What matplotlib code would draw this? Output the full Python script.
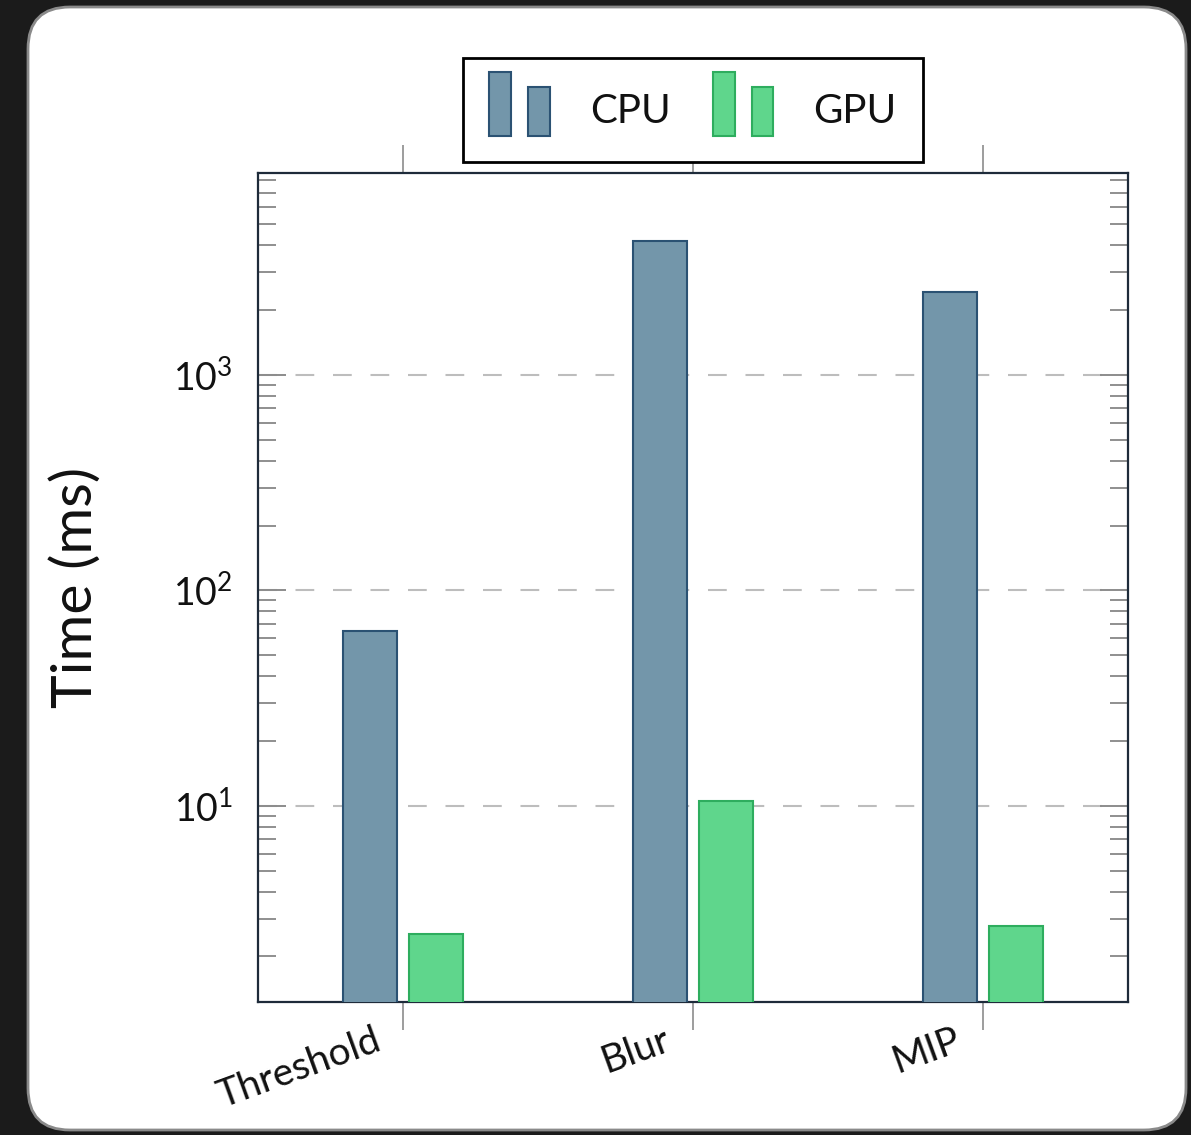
import matplotlib
matplotlib.use("Agg")
import matplotlib.pyplot as plt
import matplotlib.transforms as mtransforms
from matplotlib.patches import FancyBboxPatch, Rectangle
from matplotlib.legend_handler import HandlerBase
from matplotlib.ticker import LogLocator, NullFormatter
import numpy as np

# data
categories = ["Threshold", "Blur", "MIP"]
cpu_ms = [65, 4200, 2430]
gpu_ms = [2.55, 10.5, 2.77]

CPU_FILL, CPU_EDGE = "#7396aa", "#2b5273"
GPU_FILL, GPU_EDGE = "#5fd68c", "#2ead5e"

plt.rcParams["font.family"] = ["Lato", "DejaVu Sans"]
plt.rcParams["mathtext.fontset"] = "custom"
plt.rcParams["mathtext.rm"] = "Lato"
plt.rcParams["mathtext.it"] = "Lato:italic"
plt.rcParams["mathtext.bf"] = "Lato:bold"


class TwoBarHandler(HandlerBase):
    # pgfplots-style ybar legend image: a tall and a short bar
    def create_artists(self, legend, orig_handle, xdescent, ydescent,
                       width, height, fontsize, trans):
        fc = orig_handle.get_facecolor()
        ec = orig_handle.get_edgecolor()
        full = height + ydescent
        w = width * 0.36
        r1 = Rectangle((-xdescent, -ydescent), w, full, facecolor=fc,
                       edgecolor=ec, lw=1.5, transform=trans)
        r2 = Rectangle((-xdescent + width - w, -ydescent), w, full * 0.76,
                       facecolor=fc, edgecolor=ec, lw=1.5, transform=trans)
        return [r1, r2]


fig = plt.figure(figsize=(11.91, 11.35), dpi=100)
fig.patch.set_facecolor("#1b1b1b")

card = FancyBboxPatch((0.28, 0.05), 11.58, 11.23,
                      boxstyle="round,pad=0,rounding_size=0.42",
                      transform=fig.dpi_scale_trans, facecolor="white",
                      edgecolor="#8a8a8a", lw=2, zorder=-5)
fig.patches.append(card)

ax = fig.add_axes([0.2166, 0.1172, 0.7305, 0.7304])
ax.set_yscale("log")

x = np.arange(len(categories))
off, bw = 0.114, 0.186
b1 = ax.bar(x - off, cpu_ms, bw, color=CPU_FILL, edgecolor=CPU_EDGE,
            lw=1.5, label="CPU", zorder=3)
b2 = ax.bar(x + off, gpu_ms, bw, color=GPU_FILL, edgecolor=GPU_EDGE,
            lw=1.5, label="GPU", zorder=3)

ax.set_xlim(-0.5, 2.5)
ax.set_ylim(1.23, 8650)

for s in ax.spines.values():
    s.set_color("#1e2b3a")
    s.set_linewidth(1.6)

# x ticks outside (top and bottom), labels placed as rotated texts
ax.set_xticks(x)
ax.set_xticklabels([])
ax.tick_params(axis="x", which="major", direction="out", length=20,
               width=1.2, color="#8c8c8c", top=True, bottom=True)
lab_trans = ax.get_xaxis_transform() + mtransforms.ScaledTranslation(
    -0.30, -0.20, fig.dpi_scale_trans)
for xi, name in zip(x, categories):
    ax.text(xi, 0, name, transform=lab_trans, rotation=20,
            rotation_mode="anchor", ha="right", va="top",
            fontsize=28, color="#111")

ax.yaxis.set_major_locator(LogLocator(base=10, numticks=10))
ax.yaxis.set_minor_locator(LogLocator(base=10, subs=np.arange(2, 10), numticks=20))
ax.yaxis.set_minor_formatter(NullFormatter())
ax.tick_params(axis="y", which="major", direction="in", length=20,
               width=1.4, color="#8c8c8c", left=True, right=True,
               labelsize=27, pad=18, labelcolor="#111")
ax.tick_params(axis="y", which="minor", direction="in", length=13,
               width=1.4, color="#8f8f8f", left=True, right=True)

ax.yaxis.grid(True, which="major", linestyle=(0, (9, 9)), color="#bdbdbd",
              lw=1.5, zorder=1)
ax.set_axisbelow(True)

ax.set_ylabel("Time (ms)", fontsize=41, color="#111")
ax.yaxis.set_label_coords(-0.18, 0.5)

leg = ax.legend(handles=[b1.patches[0], b2.patches[0]], labels=["CPU", "GPU"],
                handler_map={Rectangle: TwoBarHandler()},
                loc="lower center", bbox_to_anchor=(0.5, 1.013), ncol=2,
                fontsize=29, frameon=True, fancybox=False, framealpha=1,
                edgecolor="black", handlelength=1.5, handleheight=1.6,
                handletextpad=1.0, columnspacing=1.05, borderpad=0.65,
                borderaxespad=0)
leg.get_frame().set_linewidth(2)
for t in leg.get_texts():
    t.set_color("#111")

fig.savefig("out.png", dpi=100, facecolor=fig.get_facecolor())
